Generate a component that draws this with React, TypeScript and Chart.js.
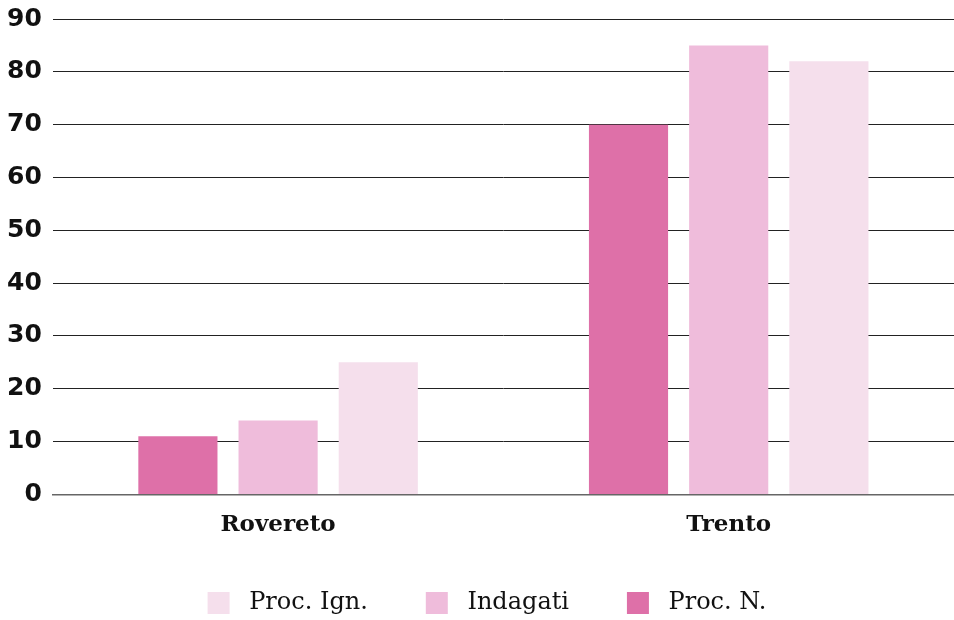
import React, { useEffect, useRef } from "react";
import { Chart, registerables } from "chart.js";

Chart.register(...registerables);

const categories = ["Rovereto", "Trento"];
const procN = [11, 70];
const indagati = [14, 85];
const procIgn = [25, 82];
const seriesLabels = ["Proc. N.", "Indagati", "Proc. Ign."];
const seriesColors = ["#de70a8", "#efbcdb", "#f5dfec"];

const legendShift = {
  id: "legendShift",
  afterLayout(chart: any) {
    const lg = chart.legend;
    if (lg) {
      lg.left += 12;
      lg.right += 12;
    }
  },
};

export default function App() {
  const ref = useRef<HTMLCanvasElement | null>(null);
  useEffect(() => {
    if (!ref.current) return;
    const values = [procN, indagati, procIgn];
    const chart = new Chart(ref.current, {
      type: "bar",
      data: {
        labels: categories,
        datasets: values.map((v, i) => ({
          label: seriesLabels[i],
          data: v,
          backgroundColor: seriesColors[i],
          borderWidth: 0,
          categoryPercentage: 0.667,
          barPercentage: 0.79,
        })),
      },
      plugins: [legendShift],
      options: {
        animation: false,
        responsive: false,
        maintainAspectRatio: false,
        layout: { padding: { top: 0, right: 0, bottom: -5, left: -4 } },
        plugins: {
          tooltip: { enabled: false },
          legend: {
            position: "bottom",
            reverse: true,
            labels: {
              boxWidth: 22,
              boxHeight: 22,
              padding: 35,
              color: "#111",
              font: { family: "'DejaVu Serif'", size: 24 },
              generateLabels: (c: any) => {
                const items = Chart.defaults.plugins.legend.labels.generateLabels(c);
                return items.map((it: any) => ({
                  ...it,
                  text: " " + it.text + (it.datasetIndex === 0 ? "" : "   "),
                }));
              },
            },
          },
        },
        scales: {
          x: {
            grid: { display: false, drawTicks: false },
            border: { color: "#666", width: 1.5 },
            ticks: {
              color: "#111",
              padding: 17,
              font: { family: "'DejaVu Serif'", size: 23, weight: "bold" },
            },
          },
          y: {
            min: 0,
            max: 90,
            grid: { color: "#222", lineWidth: 1, drawTicks: false },
            border: { display: false },
            ticks: {
              stepSize: 10,
              color: "#111",
              padding: 11,
              font: { family: "'DejaVu Sans'", size: 25, weight: "bold", lineHeight: 0.64 },
            },
          },
        },
      },
    });
    return () => chart.destroy();
  }, []);
  return (
    <div style={{ position: "fixed", left: 0, top: 0, width: 954, height: 620, background: "#fff" }}>
      <canvas ref={ref} width={954} height={620} style={{ display: "block" }} />
    </div>
  );
}
